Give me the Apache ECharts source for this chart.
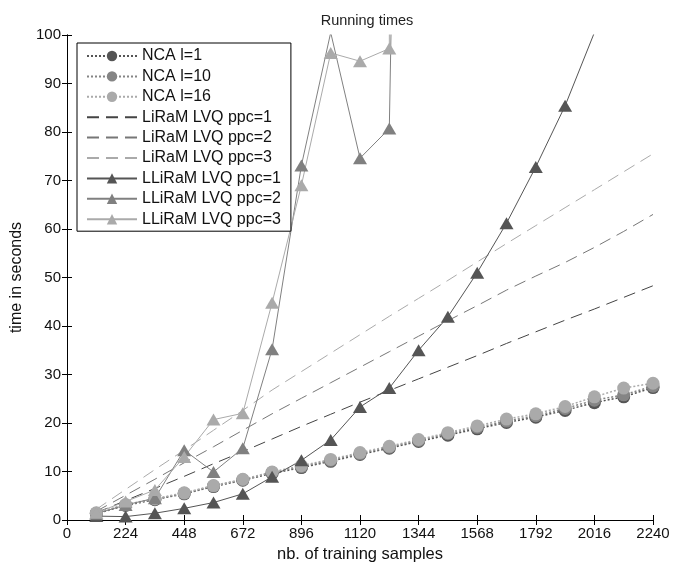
<!DOCTYPE html>
<html>
<head>
<meta charset="utf-8">
<script src="https://cdn.jsdelivr.net/npm/echarts@6/dist/echarts.min.js"></script>
<style>
  html, body { margin: 0; padding: 0; background: #fff; }
  #chart { width: 674px; height: 563px; }
</style>
</head>
<body>
<div id="chart"></div>
<script>
// training sample counts (x)
const samples = [112, 224, 336, 448, 560, 672, 784, 896, 1008, 1120, 1232, 1344,
  1456, 1568, 1680, 1792, 1904, 2016, 2128, 2240]

// NCA
const ncaL1 = [1.3, 3.0, 4.2, 5.4, 6.9, 8.2, 9.6, 10.8, 12.1, 13.5, 14.8, 16.2,
  17.5, 18.8, 20.1, 21.2, 22.6, 24.2, 25.4, 27.3]
const ncaL10 = [1.4, 3.1, 4.3, 5.5, 7.0, 8.3, 9.8, 11.0, 12.3, 13.7, 15.0, 16.4,
  17.8, 19.1, 20.4, 21.5, 23.0, 24.7, 25.8, 27.6]
const ncaL16 = [1.5, 3.2, 4.4, 5.6, 7.1, 8.4, 9.9, 11.2, 12.5, 13.9, 15.2, 16.6,
  18.0, 19.4, 20.8, 21.9, 23.4, 25.4, 27.2, 28.2]

// LiRaM LVQ
const liramP1 = [1.5, 4.0, 6.5, 9.0, 11.6, 14.1, 16.7, 19.3, 21.8, 24.3, 26.7, 29.1,
  31.5, 33.9, 36.4, 38.8, 41.2, 43.5, 45.9, 48.3]
const liramP2 = [1.8, 5.1, 8.4, 11.8, 15.1, 18.5, 21.9, 25.1, 28.3, 31.5, 34.7, 37.9,
  41.1, 44.2, 47.4, 50.3, 53.1, 56.2, 59.5, 63.0]
const liramP3 = [2.2, 6.3, 10.4, 14.4, 18.5, 22.6, 26.8, 30.6, 34.4, 38.2, 42.0, 45.7,
  49.4, 53.2, 57.0, 60.7, 64.4, 68.1, 71.8, 75.5]

// LLiRaM LVQ (only measured up to where the curves leave the plot)
const lliramP1 = [0.8, 0.7, 1.4, 2.4, 3.6, 5.4, 8.9, 12.3, 16.5, 23.3, 27.2, 35.0,
  41.9, 51.0, 61.2, 72.8, 85.4, 100.5]
const lliramP2 = [1.3, 3.1, 4.5, 14.4, 9.9, 14.8, 35.2, 73.1, 100.5, 74.6, 80.7, 420]
const lliramP3 = [1.5, 3.8, 6.2, 13.0, 20.7, 22.0, 44.8, 69.0, 96.3, 94.6, 97.2, 1500]

const xTicks = { min: 0, max: 2240, interval: 224 }
const yTicks = { min: 0, max: 100, interval: 10 }

const FONT = 'Liberation Sans, Arial, Helvetica, sans-serif'

function pairs(ys) {
  return ys.map((y, i) => [samples[i], y])
}

function ncaSeries(name, data, color) {
  return {
    name,
    type: 'line',
    data: pairs(data),
    symbol: 'circle',
    symbolSize: 13,
    itemStyle: { color },
    lineStyle: { color, width: 1.5, type: [2, 2] }
  }
}

// dashed, no markers
function liramSeries(name, data, color) {
  return {
    name,
    type: 'line',
    data: pairs(data),
    showSymbol: false,
    symbolSize: 0,
    itemStyle: { color, opacity: 0 },
    lineStyle: { color, width: 1, type: [12, 7] }
  }
}

function lliramSeries(name, data, color) {
  return {
    name,
    type: 'line',
    data: pairs(data),
    symbol: 'triangle',
    symbolSize: [14, 12],
    itemStyle: { color },
    lineStyle: { color, width: 1 }
  }
}

const chart = echarts.init(document.getElementById('chart'), null, { renderer: 'canvas' })

const axisCommon = {
  type: 'value',
  axisLine: { show: true, lineStyle: { color: '#000', width: 1 } },
  axisTick: { show: true, inside: true, length: 5, lineStyle: { color: '#000' } },
  splitLine: { show: false }
}

const tickLabel = {
  fontFamily: FONT,
  fontSize: 15,
  color: '#111',
  margin: 6,
  formatter: v => String(v)
}

chart.setOption({
  animation: false,
  backgroundColor: '#fff',
  textStyle: { fontFamily: FONT },
  title: {
    text: 'Running times',
    left: 362,
    textAlign: 'center',
    top: 8,
    textStyle: { fontFamily: FONT, fontSize: 14.5, fontWeight: 'normal', color: '#222' }
  },
  grid: { left: 67, right: 21, top: 35, bottom: 43, outerBoundsMode: 'none', containLabel: false },
  legend: {
    orient: 'vertical',
    left: 77,
    top: 43,
    padding: [5, 10, 4, 9],
    itemWidth: 50,
    itemHeight: 13,
    itemGap: 4.4,
    backgroundColor: '#fff',
    borderColor: '#000',
    borderWidth: 1,
    textStyle: { fontFamily: FONT, fontSize: 16, color: '#111' },
    data: ['NCA l=1', 'NCA l=10', 'NCA l=16',
      'LiRaM LVQ ppc=1', 'LiRaM LVQ ppc=2', 'LiRaM LVQ ppc=3',
      'LLiRaM LVQ ppc=1', 'LLiRaM LVQ ppc=2', 'LLiRaM LVQ ppc=3']
  },
  xAxis: [
    {
      ...axisCommon,
      ...xTicks,
      position: 'bottom',
      name: 'nb. of training samples',
      nameLocation: 'middle',
      nameGap: 25,
      nameTextStyle: { fontFamily: FONT, fontSize: 16.5, color: '#111' },
      axisLabel: tickLabel
    },
    {
      ...axisCommon,
      ...xTicks,
      position: 'top',
      axisLabel: { show: false }
    }
  ],
  yAxis: [
    {
      ...axisCommon,
      ...yTicks,
      position: 'left',
      name: 'time in seconds',
      nameLocation: 'middle',
      nameGap: 36,
      nameTextStyle: { fontFamily: FONT, fontSize: 16, color: '#111' },
      axisLabel: tickLabel
    },
    {
      ...axisCommon,
      ...yTicks,
      position: 'right',
      axisLabel: { show: false }
    }
  ],
  series: [
    ncaSeries('NCA l=1', ncaL1, '#555555'),
    ncaSeries('NCA l=10', ncaL10, '#858585'),
    ncaSeries('NCA l=16', ncaL16, '#aaaaaa'),
    liramSeries('LiRaM LVQ ppc=1', liramP1, '#444444'),
    liramSeries('LiRaM LVQ ppc=2', liramP2, '#777777'),
    liramSeries('LiRaM LVQ ppc=3', liramP3, '#aaaaaa'),
    lliramSeries('LLiRaM LVQ ppc=1', lliramP1, '#555555'),
    lliramSeries('LLiRaM LVQ ppc=2', lliramP2, '#808080'),
    lliramSeries('LLiRaM LVQ ppc=3', lliramP3, '#aaaaaa')
  ]
})
</script>
</body>
</html>
